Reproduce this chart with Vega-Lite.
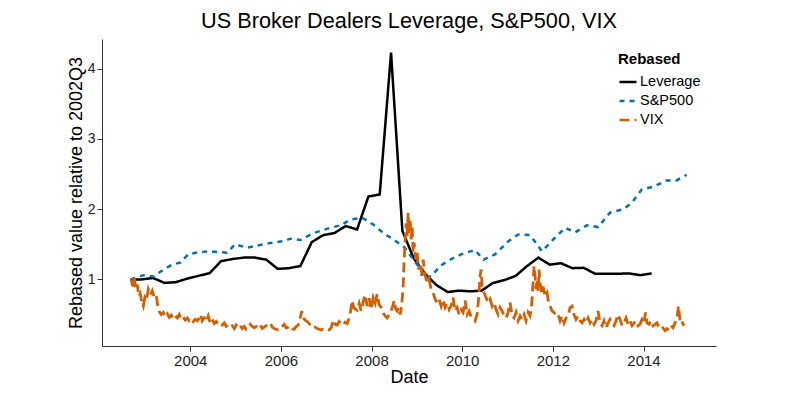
{
"$schema": "https://vega.github.io/schema/vega-lite/v6.json",
"width": 614,
"height": 307,
"autosize": {"type": "none"},
"padding": {"left": 102, "top": 39, "right": 73, "bottom": 49},
"title": {"text": "US Broker Dealers Leverage, S&P500, VIX", "fontSize": 21.7, "fontWeight": "normal", "color": "#000000", "anchor": "middle", "offset": 6},
"config": {
  "font": "Liberation Sans",
  "view": {"stroke": null},
  "legend": {"orient": "none", "legendX": 516, "legendY": 13, "titleFontSize": 15, "titleFontWeight": "bold", "titleColor": "#000000", "labelFontSize": 14.5, "labelColor": "#000000", "symbolType": "stroke", "symbolSize": 289, "symbolStrokeWidth": 2.5, "rowPadding": 2, "padding": 0, "labelOffset": 2, "titlePadding": 5}
},
"datasets": {
"lev": [
{"year":2002.68,"value":1.00},{"year":2002.93,"value":1.00},{"year":2003.18,"value":1.02},{"year":2003.43,"value":0.95},{"year":2003.68,"value":0.96},{"year":2003.93,"value":1.01},{"year":2004.18,"value":1.05},{"year":2004.43,"value":1.09},{"year":2004.68,"value":1.26},{"year":2004.93,"value":1.29},{"year":2005.18,"value":1.31},{"year":2005.43,"value":1.31},{"year":2005.68,"value":1.28},{"year":2005.93,"value":1.15},{"year":2006.18,"value":1.16},{"year":2006.43,"value":1.19},{"year":2006.68,"value":1.53},{"year":2006.93,"value":1.63},{"year":2007.18,"value":1.66},{"year":2007.43,"value":1.76},{"year":2007.68,"value":1.71},{"year":2007.93,"value":2.18},{"year":2008.18,"value":2.21},{"year":2008.43,"value":4.23},{"year":2008.68,"value":1.69},{"year":2008.93,"value":1.30},{"year":2009.18,"value":1.08},{"year":2009.43,"value":0.92},{"year":2009.68,"value":0.82},{"year":2009.93,"value":0.84},{"year":2010.18,"value":0.83},{"year":2010.43,"value":0.84},{"year":2010.68,"value":0.95},{"year":2010.93,"value":0.99},{"year":2011.18,"value":1.05},{"year":2011.43,"value":1.19},{"year":2011.68,"value":1.31},{"year":2011.93,"value":1.21},{"year":2012.18,"value":1.23},{"year":2012.43,"value":1.16},{"year":2012.68,"value":1.165},{"year":2012.93,"value":1.08},{"year":2013.18,"value":1.08},{"year":2013.43,"value":1.08},{"year":2013.68,"value":1.085},{"year":2013.93,"value":1.06},{"year":2014.18,"value":1.085}
],
"spx": [
{"year":2002.68,"value":1.00},{"year":2002.97,"value":1.06},{"year":2003.19,"value":1.04},{"year":2003.41,"value":1.14},{"year":2003.60,"value":1.21},{"year":2003.78,"value":1.24},{"year":2003.96,"value":1.36},{"year":2004.22,"value":1.39},{"year":2004.44,"value":1.40},{"year":2004.62,"value":1.39},{"year":2004.81,"value":1.38},{"year":2004.99,"value":1.50},{"year":2005.25,"value":1.45},{"year":2005.69,"value":1.51},{"year":2006.06,"value":1.545},{"year":2006.21,"value":1.58},{"year":2006.43,"value":1.56},{"year":2006.72,"value":1.66},{"year":2007.09,"value":1.735},{"year":2007.31,"value":1.77},{"year":2007.53,"value":1.85},{"year":2007.79,"value":1.88},{"year":2008.04,"value":1.78},{"year":2008.26,"value":1.66},{"year":2008.48,"value":1.57},{"year":2008.74,"value":1.45},{"year":2008.89,"value":1.31},{"year":2009.03,"value":1.19},{"year":2009.18,"value":1.02},{"year":2009.33,"value":1.05},{"year":2009.51,"value":1.19},{"year":2009.73,"value":1.28},{"year":2009.99,"value":1.36},{"year":2010.28,"value":1.42},{"year":2010.47,"value":1.28},{"year":2010.73,"value":1.36},{"year":2011.02,"value":1.545},{"year":2011.24,"value":1.64},{"year":2011.50,"value":1.63},{"year":2011.76,"value":1.40},{"year":2012.01,"value":1.57},{"year":2012.27,"value":1.735},{"year":2012.49,"value":1.67},{"year":2012.75,"value":1.77},{"year":2013.00,"value":1.745},{"year":2013.26,"value":1.95},{"year":2013.56,"value":2.00},{"year":2013.74,"value":2.09},{"year":2013.96,"value":2.28},{"year":2014.22,"value":2.32},{"year":2014.51,"value":2.41},{"year":2014.73,"value":2.41},{"year":2014.95,"value":2.49}
],
"vix": [
{"year":2002.699,"value":1.0},{"year":2002.732,"value":0.9},{"year":2002.765,"value":1.02},{"year":2002.798,"value":0.86},{"year":2002.831,"value":0.93},{"year":2002.864,"value":0.76},{"year":2002.897,"value":0.8},{"year":2002.930,"value":0.68},{"year":2002.964,"value":0.62},{"year":2002.997,"value":0.74},{"year":2003.030,"value":0.70},{"year":2003.074,"value":0.86},{"year":2003.118,"value":0.78},{"year":2003.162,"value":0.84},{"year":2003.206,"value":0.74},{"year":2003.250,"value":0.77},{"year":2003.283,"value":0.62},{"year":2003.316,"value":0.54},{"year":2003.361,"value":0.50},{"year":2003.405,"value":0.53},{"year":2003.449,"value":0.47},{"year":2003.493,"value":0.51},{"year":2003.537,"value":0.46},{"year":2003.581,"value":0.49},{"year":2003.625,"value":0.44},{"year":2003.669,"value":0.48},{"year":2003.713,"value":0.45},{"year":2003.757,"value":0.50},{"year":2003.802,"value":0.43},{"year":2003.846,"value":0.46},{"year":2003.890,"value":0.42},{"year":2003.934,"value":0.45},{"year":2003.978,"value":0.41},{"year":2004.022,"value":0.44},{"year":2004.066,"value":0.40},{"year":2004.110,"value":0.43},{"year":2004.154,"value":0.41},{"year":2004.198,"value":0.45},{"year":2004.232,"value":0.50},{"year":2004.265,"value":0.41},{"year":2004.309,"value":0.45},{"year":2004.353,"value":0.40},{"year":2004.397,"value":0.48},{"year":2004.441,"value":0.38},{"year":2004.485,"value":0.43},{"year":2004.529,"value":0.37},{"year":2004.573,"value":0.40},{"year":2004.617,"value":0.36},{"year":2004.662,"value":0.38},{"year":2004.706,"value":0.35},{"year":2004.750,"value":0.38},{"year":2004.794,"value":0.33},{"year":2004.838,"value":0.35},{"year":2004.882,"value":0.32},{"year":2004.926,"value":0.34},{"year":2004.970,"value":0.30},{"year":2005.014,"value":0.35},{"year":2005.058,"value":0.31},{"year":2005.103,"value":0.34},{"year":2005.147,"value":0.30},{"year":2005.191,"value":0.33},{"year":2005.235,"value":0.29},{"year":2005.279,"value":0.32},{"year":2005.323,"value":0.36},{"year":2005.367,"value":0.33},{"year":2005.411,"value":0.31},{"year":2005.455,"value":0.33},{"year":2005.499,"value":0.31},{"year":2005.544,"value":0.35},{"year":2005.588,"value":0.30},{"year":2005.632,"value":0.32},{"year":2005.676,"value":0.34},{"year":2005.720,"value":0.35},{"year":2005.764,"value":0.38},{"year":2005.808,"value":0.32},{"year":2005.852,"value":0.30},{"year":2005.896,"value":0.29},{"year":2005.940,"value":0.28},{"year":2005.985,"value":0.31},{"year":2006.029,"value":0.33},{"year":2006.073,"value":0.36},{"year":2006.117,"value":0.31},{"year":2006.161,"value":0.32},{"year":2006.205,"value":0.34},{"year":2006.249,"value":0.30},{"year":2006.293,"value":0.29},{"year":2006.337,"value":0.33},{"year":2006.381,"value":0.35},{"year":2006.426,"value":0.45},{"year":2006.459,"value":0.55},{"year":2006.492,"value":0.45},{"year":2006.536,"value":0.42},{"year":2006.580,"value":0.40},{"year":2006.624,"value":0.37},{"year":2006.668,"value":0.34},{"year":2006.712,"value":0.31},{"year":2006.756,"value":0.32},{"year":2006.800,"value":0.30},{"year":2006.845,"value":0.29},{"year":2006.889,"value":0.28},{"year":2006.933,"value":0.29},{"year":2006.977,"value":0.28},{"year":2007.021,"value":0.29},{"year":2007.065,"value":0.28},{"year":2007.109,"value":0.31},{"year":2007.153,"value":0.42},{"year":2007.197,"value":0.36},{"year":2007.241,"value":0.35},{"year":2007.286,"value":0.40},{"year":2007.330,"value":0.36},{"year":2007.374,"value":0.35},{"year":2007.418,"value":0.39},{"year":2007.462,"value":0.37},{"year":2007.506,"value":0.45},{"year":2007.539,"value":0.55},{"year":2007.572,"value":0.70},{"year":2007.605,"value":0.60},{"year":2007.638,"value":0.58},{"year":2007.683,"value":0.56},{"year":2007.727,"value":0.66},{"year":2007.771,"value":0.55},{"year":2007.815,"value":0.68},{"year":2007.859,"value":0.78},{"year":2007.903,"value":0.62},{"year":2007.947,"value":0.73},{"year":2007.991,"value":0.57},{"year":2008.035,"value":0.74},{"year":2008.079,"value":0.66},{"year":2008.123,"value":0.79},{"year":2008.167,"value":0.64},{"year":2008.212,"value":0.60},{"year":2008.256,"value":0.52},{"year":2008.300,"value":0.48},{"year":2008.344,"value":0.45},{"year":2008.388,"value":0.50},{"year":2008.432,"value":0.55},{"year":2008.465,"value":0.62},{"year":2008.498,"value":0.70},{"year":2008.531,"value":0.58},{"year":2008.564,"value":0.55},{"year":2008.597,"value":0.60},{"year":2008.631,"value":0.50},{"year":2008.664,"value":0.62},{"year":2008.697,"value":0.90},{"year":2008.719,"value":1.28},{"year":2008.741,"value":1.57},{"year":2008.763,"value":1.80},{"year":2008.785,"value":1.62},{"year":2008.807,"value":1.95},{"year":2008.829,"value":1.66},{"year":2008.851,"value":1.85},{"year":2008.874,"value":1.57},{"year":2008.896,"value":1.74},{"year":2008.918,"value":1.38},{"year":2008.940,"value":1.52},{"year":2008.973,"value":1.28},{"year":2009.006,"value":1.38},{"year":2009.039,"value":1.14},{"year":2009.072,"value":1.20},{"year":2009.105,"value":1.05},{"year":2009.138,"value":1.28},{"year":2009.171,"value":1.09},{"year":2009.204,"value":1.00},{"year":2009.237,"value":0.95},{"year":2009.270,"value":1.00},{"year":2009.314,"value":0.86},{"year":2009.358,"value":0.81},{"year":2009.402,"value":0.72},{"year":2009.446,"value":0.67},{"year":2009.491,"value":0.72},{"year":2009.535,"value":0.62},{"year":2009.579,"value":0.71},{"year":2009.623,"value":0.60},{"year":2009.667,"value":0.66},{"year":2009.711,"value":0.57},{"year":2009.755,"value":0.62},{"year":2009.799,"value":0.74},{"year":2009.843,"value":0.55},{"year":2009.887,"value":0.60},{"year":2009.932,"value":0.50},{"year":2009.976,"value":0.57},{"year":2010.020,"value":0.53},{"year":2010.064,"value":0.70},{"year":2010.108,"value":0.50},{"year":2010.152,"value":0.55},{"year":2010.196,"value":0.47},{"year":2010.240,"value":0.45},{"year":2010.284,"value":0.41},{"year":2010.328,"value":0.50},{"year":2010.361,"value":0.72},{"year":2010.395,"value":1.05},{"year":2010.417,"value":1.14},{"year":2010.439,"value":0.91},{"year":2010.483,"value":0.81},{"year":2010.527,"value":0.74},{"year":2010.571,"value":0.67},{"year":2010.615,"value":0.72},{"year":2010.659,"value":0.62},{"year":2010.703,"value":0.67},{"year":2010.747,"value":0.57},{"year":2010.791,"value":0.50},{"year":2010.836,"value":0.60},{"year":2010.880,"value":0.55},{"year":2010.924,"value":0.48},{"year":2010.968,"value":0.45},{"year":2011.012,"value":0.53},{"year":2011.056,"value":0.67},{"year":2011.100,"value":0.48},{"year":2011.144,"value":0.45},{"year":2011.188,"value":0.53},{"year":2011.233,"value":0.41},{"year":2011.277,"value":0.48},{"year":2011.321,"value":0.43},{"year":2011.365,"value":0.50},{"year":2011.409,"value":0.41},{"year":2011.453,"value":0.53},{"year":2011.497,"value":0.48},{"year":2011.530,"value":0.62},{"year":2011.563,"value":0.95},{"year":2011.585,"value":1.19},{"year":2011.607,"value":1.05},{"year":2011.629,"value":0.86},{"year":2011.652,"value":1.00},{"year":2011.674,"value":0.83},{"year":2011.696,"value":1.14},{"year":2011.718,"value":0.95},{"year":2011.751,"value":0.81},{"year":2011.784,"value":0.90},{"year":2011.828,"value":0.76},{"year":2011.872,"value":0.81},{"year":2011.905,"value":0.67},{"year":2011.938,"value":0.62},{"year":2011.982,"value":0.55},{"year":2012.026,"value":0.53},{"year":2012.071,"value":0.48},{"year":2012.115,"value":0.50},{"year":2012.159,"value":0.41},{"year":2012.203,"value":0.48},{"year":2012.247,"value":0.38},{"year":2012.291,"value":0.45},{"year":2012.335,"value":0.48},{"year":2012.379,"value":0.60},{"year":2012.423,"value":0.62},{"year":2012.467,"value":0.50},{"year":2012.511,"value":0.43},{"year":2012.555,"value":0.48},{"year":2012.600,"value":0.41},{"year":2012.644,"value":0.38},{"year":2012.688,"value":0.43},{"year":2012.732,"value":0.38},{"year":2012.776,"value":0.45},{"year":2012.820,"value":0.38},{"year":2012.864,"value":0.43},{"year":2012.908,"value":0.36},{"year":2012.952,"value":0.41},{"year":2012.996,"value":0.55},{"year":2013.040,"value":0.38},{"year":2013.084,"value":0.34},{"year":2013.129,"value":0.41},{"year":2013.173,"value":0.31},{"year":2013.217,"value":0.38},{"year":2013.261,"value":0.43},{"year":2013.305,"value":0.36},{"year":2013.349,"value":0.34},{"year":2013.393,"value":0.41},{"year":2013.437,"value":0.50},{"year":2013.482,"value":0.43},{"year":2013.526,"value":0.34},{"year":2013.570,"value":0.38},{"year":2013.614,"value":0.45},{"year":2013.658,"value":0.36},{"year":2013.702,"value":0.41},{"year":2013.746,"value":0.34},{"year":2013.790,"value":0.38},{"year":2013.834,"value":0.41},{"year":2013.878,"value":0.34},{"year":2013.922,"value":0.36},{"year":2013.966,"value":0.43},{"year":2014.010,"value":0.38},{"year":2014.044,"value":0.53},{"year":2014.077,"value":0.38},{"year":2014.121,"value":0.36},{"year":2014.165,"value":0.41},{"year":2014.209,"value":0.34},{"year":2014.253,"value":0.36},{"year":2014.297,"value":0.38},{"year":2014.341,"value":0.31},{"year":2014.385,"value":0.29},{"year":2014.430,"value":0.31},{"year":2014.474,"value":0.27},{"year":2014.518,"value":0.30},{"year":2014.562,"value":0.28},{"year":2014.606,"value":0.34},{"year":2014.650,"value":0.31},{"year":2014.694,"value":0.38},{"year":2014.738,"value":0.43},{"year":2014.771,"value":0.62},{"year":2014.815,"value":0.36},{"year":2014.859,"value":0.38},{"year":2014.893,"value":0.34}
]
},
"layer": [
  {"data": {"name": "lev"}, "transform": [{"calculate": "'Leverage'", "as": "series"}], "mark": {"type": "line", "strokeWidth": 2.5}},
  {"data": {"name": "spx"}, "transform": [{"calculate": "'S&P500'", "as": "series"}], "mark": {"type": "line", "strokeWidth": 2.5}},
  {"data": {"name": "vix"}, "transform": [{"calculate": "'VIX'", "as": "series"}], "mark": {"type": "line", "strokeWidth": 2.8}}
],
"encoding": {
  "x": {"field": "year", "type": "quantitative", "scale": {"domain": [2002.053, 2015.599], "nice": false, "zero": false},
        "axis": {"values": [2004, 2006, 2008, 2010, 2012, 2014], "format": "d", "grid": false, "title": "Date", "titleFontSize": 18, "titleFontWeight": "normal", "titleColor": "#000000", "labelFontSize": 15, "labelColor": "#222222", "tickSize": 5, "labelPadding": 2, "domainColor": "#333333", "tickColor": "#333333", "titlePadding": 0}},
  "y": {"field": "value", "type": "quantitative", "scale": {"domain": [0.0512, 4.424], "nice": false, "zero": false},
        "axis": {"values": [1, 2, 3, 4], "grid": false, "title": "Rebased value relative to 2002Q3", "titleFontSize": 18, "titleFontWeight": "normal", "titleColor": "#000000", "labelFontSize": 14, "labelColor": "#222222", "tickSize": 5, "labelPadding": 2, "domainColor": "#333333", "tickColor": "#333333", "titlePadding": 2}},
  "color": {"field": "series", "type": "nominal", "scale": {"domain": ["Leverage", "S&P500", "VIX"], "range": ["#000000", "#0072B2", "#D55E00"]}, "legend": {"title": "Rebased"}},
  "strokeDash": {"field": "series", "type": "nominal", "scale": {"domain": ["Leverage", "S&P500", "VIX"], "range": [[1, 0], [5, 5], [10, 5]]}, "legend": {"title": "Rebased"}}
}
}
